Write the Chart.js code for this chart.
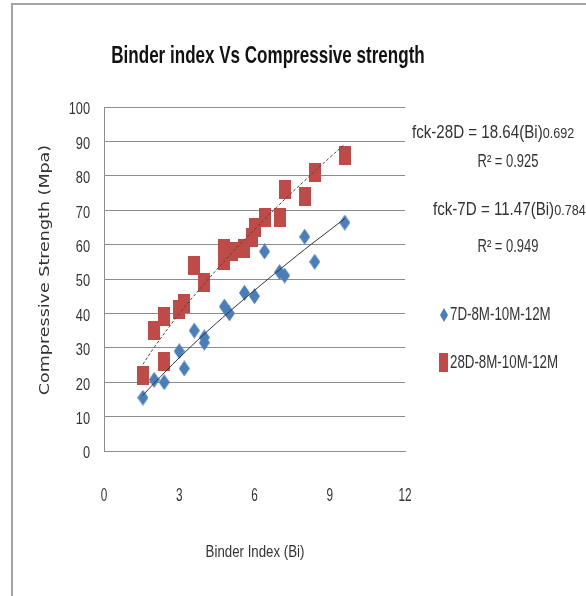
<!DOCTYPE html>
<html>
<head>
<meta charset="utf-8">
<script src="https://cdn.jsdelivr.net/npm/chart.js@4.4.0/dist/chart.umd.min.js"></script>
<style>
  body { margin: 0; background: #fff; }
  #wrap { position: relative; width: 586px; height: 596px; overflow: hidden; }
  #frame { position: absolute; left: 11px; top: 3px; width: 600px; height: 620px;
           border-left: 2px solid #a4a4a4; border-top: 2px solid #a4a4a4; }
  canvas { position: absolute; left: 0; top: 0; }
</style>
</head>
<body>
<div id="wrap">
  <div id="frame"></div>
  <canvas id="chart" width="586" height="596"></canvas>
</div>
<script>
// --- ДАННЫЕ ---
const x7D = [1.55, 2.0, 2.4, 3.0, 3.2, 3.6, 4.0, 4.0, 4.8, 5.0, 5.6, 6.0, 6.4, 7.0, 7.2, 8.0, 8.4, 9.6];
const y7D = [15.5, 20.7, 20.0, 29.0, 24.0, 35.0, 33.0, 31.5, 42.0, 40.0, 46.0, 45.0, 58.0, 52.0, 51.0, 62.3, 55.0, 66.4];

const x28D = [1.55, 2.0, 2.4, 2.4, 3.0, 3.2, 3.6, 4.0, 4.8, 4.8, 5.1, 5.6, 5.9, 6.0, 6.4, 7.0, 7.2, 8.0, 8.4, 9.6];
const y28D = [22.0, 35.0, 39.0, 26.0, 41.0, 43.0, 54.0, 49.0, 59.0, 55.5, 58.0, 59.0, 62.0, 65.0, 68.0, 68.0, 76.0, 74.0, 81.0, 86.0];

// линии тренда (степенные)
const xTrend = [1.55, 2, 3, 4, 5, 6, 7, 8, 9, 9.6];
const yTrend7D = [16.2, 19.7, 27.1, 34.0, 40.5, 46.7, 52.7, 58.6, 64.2, 67.6];
const yTrend28D = [25.2, 30.1, 39.9, 48.6, 56.8, 64.4, 71.7, 78.6, 85.3, 89.2];

const xTicks = [0, 3, 6, 9, 12];
const yTicks = [0, 10, 20, 30, 40, 50, 60, 70, 80, 90, 100];

const seriesNames = ['7D-8M-10M-12M', '28D-8M-10M-12M'];
const equations = ['fck-28D = 18.64(Bi)', '0.692', 'R\u00B2 = 0.925', 'fck-7D = 11.47(Bi)', '0.784', 'R\u00B2 = 0.949'];

const BLUE = '#4a7ebb';
const RED = '#be4b48';
const FONT = '"Liberation Sans", Arial, sans-serif';

function toXY(xs, ys) {
    return xs.map((x, i) => ({ x: x, y: ys[i] }));
}

// --- МАРКЕРЫ ---
function makeDiamond(w, h, color) {
    const c = document.createElement('canvas');
    c.width = w; c.height = h;
    const g = c.getContext('2d');
    g.fillStyle = color;
    g.beginPath();
    g.moveTo(w / 2, 0); g.lineTo(w, h / 2); g.lineTo(w / 2, h); g.lineTo(0, h / 2);
    g.closePath(); g.fill();
    return c;
}

function makeRect(w, h, color) {
    const c = document.createElement('canvas');
    c.width = w; c.height = h;
    const g = c.getContext('2d');
    g.fillStyle = color;
    g.fillRect(0, 0, w, h);
    return c;
}

const diamond = makeDiamond(11, 16, BLUE);
const rect = makeRect(12, 19, RED);

// узкий текст: сжимаем по горизонтали
function narrowText(ctx, str, x, y, font, sx, align) {
    ctx.save();
    ctx.font = font;
    ctx.textAlign = align || 'left';
    ctx.translate(x, y);
    ctx.scale(sx, 1);
    ctx.fillText(str, 0, 0);
    const w = ctx.measureText(str).width * sx;
    ctx.restore();
    return w;
}

// --- ТЕКСТЫ ---
const textPlugin = {
    id: 'texts',
    afterDraw(chart) {
        const ctx = chart.ctx;
        ctx.save();

        ctx.fillStyle = '#111';
        ctx.textBaseline = 'alphabetic';
        narrowText(ctx, 'Binder index Vs Compressive strength', 268, 63, 'bold 24px ' + FONT, 0.71, 'center');

        // подписи делений
        ctx.fillStyle = '#333';
        ctx.textBaseline = 'middle';
        const xs = chart.scales.x, ys = chart.scales.y;
        yTicks.forEach(v => {
            narrowText(ctx, String(v), xs.left - 14, ys.getPixelForValue(v) + 3, '16px ' + FONT, 0.8, 'right');
        });
        xTicks.forEach(v => {
            narrowText(ctx, String(v), xs.getPixelForValue(v), 496, '19px ' + FONT, 0.62, 'center');
        });

        // подписи осей
        ctx.save();
        ctx.translate(45, 270);
        ctx.rotate(-Math.PI / 2);
        ctx.scale(1.25, 1);
        ctx.font = '14px "DejaVu Sans", sans-serif';
        ctx.textAlign = 'center';
        ctx.fillText('Compressive Strength (Mpa)', 0, 0);
        ctx.restore();

        narrowText(ctx, 'Binder Index (Bi)', 255, 552, '17px ' + FONT, 0.78, 'center');

        // уравнения трендов
        let w = narrowText(ctx, equations[0], 412, 133, '18px ' + FONT, 0.84);
        narrowText(ctx, equations[1], 412 + w, 134, '15px ' + FONT, 0.84);
        narrowText(ctx, equations[2], 508, 162, '18px ' + FONT, 0.72, 'center');
        w = narrowText(ctx, equations[3], 433, 210, '18px ' + FONT, 0.84);
        narrowText(ctx, equations[4], 433 + w, 211, '15px ' + FONT, 0.84);
        narrowText(ctx, equations[5], 508, 247, '18px ' + FONT, 0.72, 'center');

        // легенда
        ctx.drawImage(makeDiamond(8, 14, BLUE), 440, 308);
        narrowText(ctx, seriesNames[0], 450, 315, '18px ' + FONT, 0.74);
        ctx.drawImage(makeRect(9, 19, RED), 439, 353);
        narrowText(ctx, seriesNames[1], 450, 363, '18px ' + FONT, 0.74);
        ctx.restore();
    }
};

// --- ГРАФИК ---
const chart = new Chart(document.getElementById('chart'), {
    type: 'scatter',
    data: {
        datasets: [
            { label: seriesNames[0], data: toXY(x7D, y7D), pointStyle: diamond, order: 2 },
            { label: seriesNames[1], data: toXY(x28D, y28D), pointStyle: rect, order: 1 },
            { label: 'trend-7D', data: toXY(xTrend, yTrend7D), showLine: true, pointRadius: 0,
              borderColor: '#2c3440', borderWidth: 1, tension: 0.4, order: 0 },
            { label: 'trend-28D', data: toXY(xTrend, yTrend28D), showLine: true, pointRadius: 0,
              borderColor: '#5a4040', borderWidth: 1, borderDash: [3, 2], tension: 0.4, order: 0 }
        ]
    },
    options: {
        responsive: false,
        animation: false,
        layout: { padding: { left: 0, right: 181, top: 107, bottom: 0 } },
        plugins: {
            legend: { display: false },
            tooltip: { enabled: false }
        },
        scales: {
            x: {
                type: 'linear', min: 0, max: 12,
                afterBuildTicks: (s) => { s.ticks = xTicks.map(v => ({ value: v })); },
                afterFit: (s) => { s.height = 145; },
                grid: { display: false },
                border: { display: true, color: '#8c8c8c', width: 1 },
                ticks: { display: false }
            },
            y: {
                min: 0, max: 100,
                afterBuildTicks: (s) => { s.ticks = yTicks.map(v => ({ value: v })); },
                afterFit: (s) => { s.width = 104; },
                grid: { color: '#8c8c8c', drawTicks: false },
                border: { display: true, color: '#8c8c8c', width: 1 },
                ticks: { display: false }
            }
        }
    },
    plugins: [textPlugin]
});
</script>
</body>
</html>
